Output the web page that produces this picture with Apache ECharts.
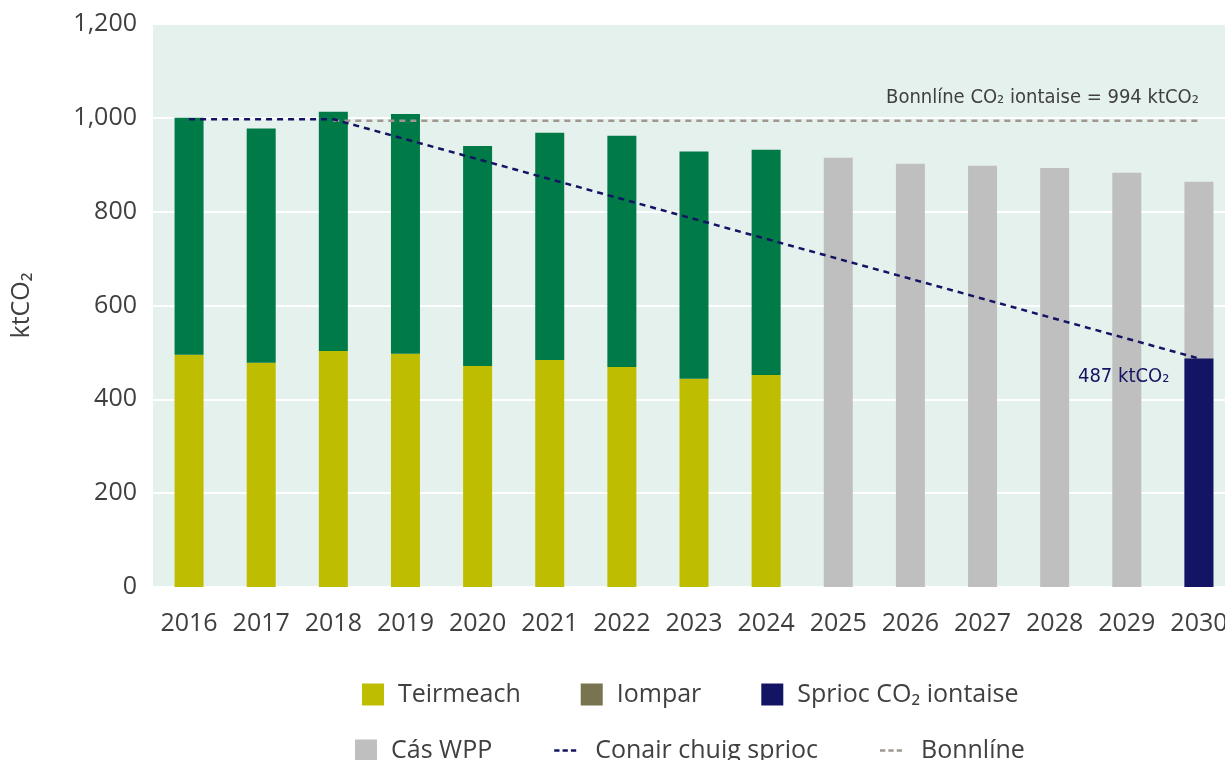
<!DOCTYPE html>
<html>
<head>
<meta charset="utf-8">
<script src="https://cdn.jsdelivr.net/npm/echarts@6/dist/echarts.min.js"></script>
<style>
	html, body { margin: 0; padding: 0; background: #fff; }
	#chart { width: 1225px; height: 760px; }
</style>
</head>
<body>
<div id="chart"></div>
<script>
// categories
var years = ["2016", "2017", "2018", "2019", "2020", "2021", "2022", "2023",
	"2024", "2025", "2026", "2027", "2028", "2029", "2030"];

// stacked history (ktCO2)
var teirmeach = [495, 478, 503, 497, 471, 484, 469, 444, 452];
var leictreachas = [505, 499, 510, 511, 469, 484, 493, 484, 480];
var iompar = [];

// projection and target
var casWpp = [null, null, null, null, null, null, null, null, null,
	915, 902, 898, 893, 883, 864];
var sprioc = [null, null, null, null, null, null, null, null, null,
	null, null, null, null, null, 487];

// dashed lines
var conair = [997, 997, 997, null, null, null, null, null, null,
	null, null, null, null, null, 487];
var bonnline = [null, null, 994, 994, 994, 994, 994, 994, 994,
	994, 994, 994, 994, 994, 994];

var yTicks = [0, 200, 400, 600, 800, 1000, 1200];

var FONT = "'Open Sans', 'Noto Sans', sans-serif";
var NARROW = "'DejaVu Sans Condensed', 'Liberation Sans Narrow', 'Open Sans', sans-serif";
var TXT = "#404040";
// three short dashes for the line entries of the legend
var DASH_ICON = "path://M0,0h6v2.6h-6z M9.5,0h6v2.6h-6z M19,0h6v2.6h-6z";

var chart = echarts.init(document.getElementById("chart"));

// last target value gets the label next to its bar
var spriocData = sprioc.map(function (v, i) {
	if (i !== sprioc.length - 1) return v;
	return {
		value: v,
		label: {
			show: true,
			position: [-15, 18],
			align: "right",
			verticalAlign: "middle",
			formatter: "487 ktCO₂",
			fontFamily: NARROW,
			fontSize: 20,
			color: "#141464"
		}
	};
});

// baseline label sits above the right end of the dashed line
var bonnData = bonnline.map(function (v, i) {
	if (i !== bonnline.length - 1) return v;
	return {
		value: v,
		symbol: "circle",
		symbolSize: 2,
		itemStyle: { color: "transparent" },
		label: {
			show: true,
			position: "top",
			distance: 12,
			align: "right",
			formatter: "Bonnlíne CO₂ iontaise = 994 ktCO₂",
			fontFamily: NARROW,
			fontSize: 20,
			color: TXT
		}
	};
});

var legendCommon = {
	orient: "horizontal",
	padding: 0,
	itemWidth: 22,
	itemHeight: 22,
	itemGap: 60,
	textStyle: {
		fontFamily: FONT,
		fontSize: 25,
		color: TXT,
		padding: [0, 0, 0, 9]
	}
};

// dashed entries sit a little further from their text
var dashText = {
	fontFamily: FONT,
	fontSize: 25,
	color: TXT,
	padding: [0, 0, 0, 14]
};

var option = {
	animation: false,
	backgroundColor: "#ffffff",
	textStyle: { fontFamily: FONT },
	legend: [
		Object.assign({}, legendCommon, {
			left: 362,
			top: 682,
			data: [
				{ name: "Teirmeach", icon: "rect" },
				{ name: "Iompar", icon: "rect" },
				{ name: "Sprioc CO₂ iontaise", icon: "rect" }
			]
		}),
		Object.assign({}, legendCommon, {
			left: 355,
			top: 738,
			itemGap: 62,
			data: [
				{ name: "Cás WPP", icon: "rect" },
				{ name: "Conair chuig sprioc", icon: DASH_ICON, textStyle: dashText },
				{ name: "Bonnlíne", icon: DASH_ICON, textStyle: dashText }
			]
		})
	],
	grid: {
		left: 153,
		right: -10,
		top: 24,
		bottom: 173,
		outerBoundsMode: "none",
		containLabel: false,
		show: true,
		backgroundColor: "#e5f1ec",
		borderWidth: 0
	},
	xAxis: {
		type: "category",
		data: years,
		axisLine: { show: false },
		axisTick: { show: false },
		axisLabel: {
			interval: 0,
			margin: 24,
			fontFamily: FONT,
			fontSize: 25,
			color: TXT
		}
	},
	yAxis: {
		type: "value",
		min: 0,
		max: 1200,
		interval: 200,
		name: "ktCO₂",
		nameLocation: "middle",
		nameGap: 119,
		nameTextStyle: { fontFamily: FONT, fontSize: 25, color: TXT },
		axisLine: { show: false },
		axisTick: { show: false },
		splitLine: { lineStyle: { color: "#ffffff", width: 2 } },
		axisLabel: {
			margin: 16,
			fontFamily: FONT,
			fontSize: 25,
			color: TXT,
			formatter: function (v) {
				return yTicks.indexOf(v) >= 0 ? v.toLocaleString("en-US") : "";
			}
		}
	},
	series: [
		{
			name: "Teirmeach",
			type: "bar",
			stack: "hist",
			barWidth: 29,
			itemStyle: { color: "#bfbd00" },
			data: teirmeach
		},
		{
			name: "Leictreachas",
			type: "bar",
			stack: "hist",
			barWidth: 29,
			itemStyle: { color: "#007a46" },
			data: leictreachas
		},
		{
			name: "Iompar",
			type: "bar",
			stack: "hist",
			barWidth: 29,
			itemStyle: { color: "#77744f" },
			data: iompar
		},
		{
			name: "Cás WPP",
			type: "bar",
			barWidth: 29,
			itemStyle: { color: "#bfbfbf" },
			data: casWpp
		},
		{
			name: "Sprioc CO₂ iontaise",
			type: "bar",
			barWidth: 29,
			// all bar groups share the same slot
			barGap: "-100%",
			itemStyle: { color: "#141464" },
			data: spriocData
		},
		{
			name: "Conair chuig sprioc",
			type: "line",
			symbol: "none",
			connectNulls: true,
			z: 5,
			lineStyle: { color: "#141464", width: 2.5, type: [6, 5] },
			itemStyle: { color: "#141464" },
			data: conair
		},
		{
			name: "Bonnlíne",
			type: "line",
			symbol: "none",
			z: 4,
			lineStyle: { color: "#a09890", width: 2.5, type: [6, 5] },
			itemStyle: { color: "#a09890" },
			data: bonnData
		}
	]
};

chart.setOption(option);
window.addEventListener("resize", chart.resize);
</script>
</body>
</html>
